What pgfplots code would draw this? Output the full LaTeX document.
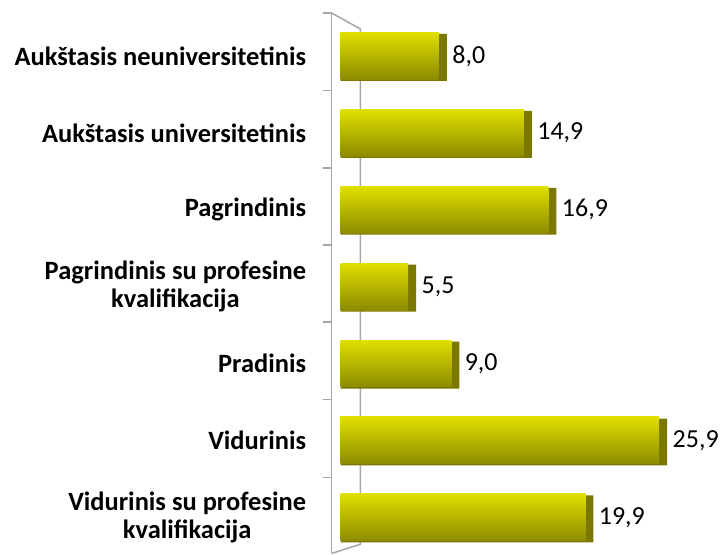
\documentclass[border=0pt]{standalone}
\usepackage{pgfplots}
\pgfplotsset{compat=1.18}
\usepackage{fontspec}
\setmainfont{Carlito}
\definecolor{barlight}{HTML}{E0DF00}
\definecolor{barmid}{HTML}{CCCB00}
\definecolor{bardark}{HTML}{8C8B00}
\definecolor{barside}{HTML}{7A7800}
\definecolor{wall}{HTML}{A6A6A6}
\pgfplotsset{
  frontbar/.style={draw=none,top color=barlight,middle color=barmid,bottom color=bardark,
    nodes near coords={\pgfmathprintnumber[fixed,fixed zerofill,precision=1,use comma,assume math mode=true]{\pgfplotspointmeta}},
    nodes near coords style={font=\fontsize{26}{30}\selectfont,anchor=west,xshift=10pt,text=black},
    point meta=x},
}

\begin{document}
\begin{tikzpicture}
\begin{axis}[
  scale only axis,
  width=390pt,height=554pt,
  xmin=-0.73,xmax=30.93,
  ymin=-0.727,ymax=6.468,
  y dir=reverse,
  axis line style={draw=none},
  major tick length=0pt,
  xtick=\empty,
  ytick={0,...,6},
  yticklabels={Aukštasis neuniversitetinis,Aukštasis universitetinis,Pagrindinis,{Pagrindinis su profesine\\kvalifikacija},Pradinis,Vidurinis,{Vidurinis su profesine\\kvalifikacija}},
  yticklabel style={align=center,font=\fontsize{26.5}{28.5}\selectfont\bfseries,xshift=-22pt},
  xbar,bar shift=0pt,bar width=0.61,
  clip=false,
]
% wall
\draw[wall,line width=1.5pt] (axis cs:-0.73,-0.558) -- (axis cs:-0.73,6.468);
\draw[wall,line width=1.5pt] (axis cs:-0.73,-0.558) -- (axis cs:1.62,-0.35) -- (axis cs:1.62,6.35) -- (axis cs:-0.73,6.47);
\pgfplotsinvokeforeach{-0.558,0.45,1.46,2.46,3.46,4.47,5.48}{
  \draw[wall,line width=1.5pt] (axis cs:-1.46,#1) -- (axis cs:-0.73,#1);
}
% side faces
\addplot[draw=none,fill=barside,forget plot,bar shift=0.02] coordinates {
 (8.65,0) (15.55,1) (17.55,2) (6.15,3) (9.65,4) (26.55,5) (20.55,6)};
% front faces, one plot per bar so each is shaded on its own
\addplot[frontbar] coordinates {(8.0,0)};
\addplot[frontbar] coordinates {(14.9,1)};
\addplot[frontbar] coordinates {(16.9,2)};
\addplot[frontbar] coordinates {(5.5,3)};
\addplot[frontbar] coordinates {(9.0,4)};
\addplot[frontbar] coordinates {(25.9,5)};
\addplot[frontbar] coordinates {(19.9,6)};
\path[use as bounding box] (axis cs:-27.68,-0.727) rectangle (axis cs:30.93,6.468);
\end{axis}
\end{tikzpicture}
\end{document}
